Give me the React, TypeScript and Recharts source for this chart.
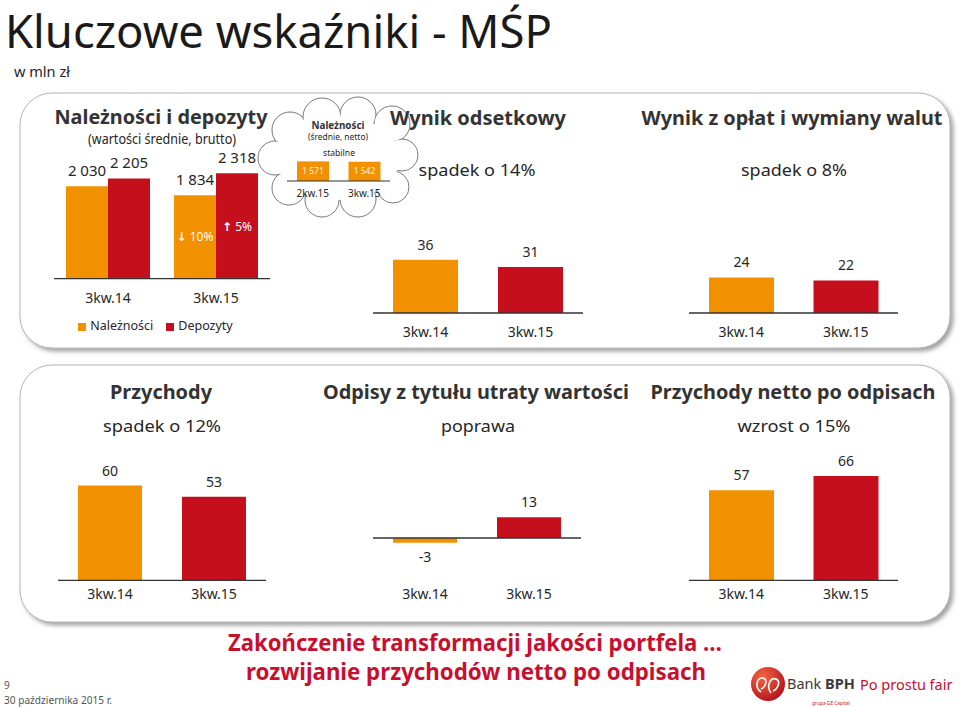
import React from 'react';
import { BarChart, Bar, XAxis, YAxis, Cell, LabelList, ReferenceLine, Legend } from 'recharts';

// ---------- data ----------
const categories = ['3kw.14', '3kw.15'];
const cloudCategories = ['2kw.15', '3kw.15'];
const seriesNames = ['Należności', 'Depozyty'];
const receivables = [2030, 1834];
const deposits = [2205, 2318];
const receivablesChange = [null, -10];
const depositsChange = [null, 5];
const receivablesNet = [1571, 1542];
const interestResult = [36, 31];
const feeResult = [24, 22];
const revenues = [60, 53];
const impairments = [-3, 13];
const netRevenues = [57, 66];

// ---------- style ----------
const ORANGE = '#F29100';
const RED = '#C50F1D';
const FOOT_RED = '#C8102E';
const TEXT = '#262626';
const FONT = '"Noto Sans", "Open Sans", sans-serif';
const PAIR_COLORS = [ORANGE, RED];

const fmt = (v: number) => {
  const a = Math.abs(v);
  const s = a >= 1000 ? `${Math.floor(a / 1000)} ${String(a % 1000).padStart(3, '0')}` : String(a);
  return v < 0 ? '-' + s : s;
};

const rectOf = (p: any) => {
  const vb = p.viewBox && p.viewBox.width !== undefined ? p.viewBox : p;
  const x = Number(vb.x), y = Number(vb.y), w = Number(vb.width), h = Number(vb.height);
  return { x, w, top: Math.min(y, y + h), bottom: Math.max(y, y + h), h: Math.abs(h) };
};

const valueLabel = (fontSize: number) => (p: any) => {
  const v = Number(p.value);
  if (p.value === null || p.value === undefined || isNaN(v)) return null;
  const r = rectOf(p);
  const cx = r.x + r.w / 2;
  const y = v < 0 ? r.bottom + 19 : r.top - 10;
  return (
    <text x={cx} y={y} textAnchor="middle" fontSize={fontSize} fill={TEXT} fontFamily={FONT}>
      {fmt(v)}
    </text>
  );
};

const insideLabel = (p: any) => {
  const r = rectOf(p);
  return (
    <text x={r.x + r.w / 2} y={r.top + r.h / 2 + 3} textAnchor="middle" fontSize={8.5} fill="#FFF4E0" fontFamily={FONT}>
      {fmt(Number(p.value))}
    </text>
  );
};

const changeLabel = (p: any) => {
  if (p.value === null || p.value === undefined) return null;
  const v = Number(p.value);
  const r = rectOf(p);
  return (
    <text x={r.x + r.w / 2} y={r.top + r.h * 0.55} textAnchor="middle" fontSize={12} fill="#fff" fontFamily={FONT}>
      <tspan fontWeight={700} fontFamily='"DejaVu Sans", sans-serif'>{v < 0 ? '↓' : '↑'}</tspan>
      {' ' + Math.abs(v) + '%'}
    </text>
  );
};

type Geo = { left: number; right: number; top: number; bottom: number };

const chartBox = (geo: Geo, axisH: number, extraH = 0) => ({
  style: { position: 'absolute' as const, left: geo.left - 10, top: geo.top - 30, fontFamily: FONT },
  width: geo.right - geo.left + 20,
  height: geo.bottom - geo.top + 30 + axisH + extraH,
  margin: { top: 30, right: 10, left: 10, bottom: 0 },
});

// plot areas (page coordinates)
const G1: Geo = { left: 54, right: 270, top: 165.3, bottom: 279 };
const GC: Geo = { left: 287, right: 390, top: 161, bottom: 181 };
const G2: Geo = { left: 373, right: 583, top: 239, bottom: 313 };
const G3: Geo = { left: 689, right: 898, top: 239, bottom: 313 };
const G4: Geo = { left: 58, right: 266, top: 453.6, bottom: 580 };
const G5: Geo = { left: 373, right: 581, top: 442, bottom: 580 };
const G6: Geo = { left: 689, right: 898, top: 453.6, bottom: 580 };

const tickStyle = { fontSize: 14, fill: TEXT, fontFamily: FONT };

function T(props: any) {
  const { x, y, s, w, bold, anchor = 'start', fill = TEXT, children } = props;
  return (
    <text x={x} y={y} fontSize={s} fontWeight={bold ? 700 : 400} textAnchor={anchor} fill={fill}
      fontFamily={FONT} textLength={w} lengthAdjust="spacingAndGlyphs">
      {children}
    </text>
  );
}

const cloudCircles = [
  [290, 130, 18], [322, 117, 19], [358, 115, 18], [392, 124, 18], [402, 155, 16],
  [393, 187, 16], [358, 199, 18], [322, 200, 17], [289, 188, 17], [275, 158, 17],
];

function PairChart({ geo, values, domain, tickMargin, zeroLine }: any) {
  const data = categories.map((c, i) => ({ cat: c, value: values[i] }));
  const b = chartBox(geo, 30);
  return (
    <div style={b.style}>
      <BarChart width={b.width} height={b.height} data={data} margin={b.margin} barCategoryGap={20}>
        <XAxis dataKey="cat" axisLine={zeroLine ? false : { stroke: '#333', strokeWidth: 1.3 }} tickLine={false}
          tickMargin={tickMargin} height={30} tick={tickStyle} interval={0} />
        <YAxis hide domain={domain} allowDataOverflow type="number" />
        {zeroLine ? <ReferenceLine y={0} stroke="#333" strokeWidth={1.3} /> : null}
        <Bar dataKey="value" isAnimationActive={false}>
          {data.map((d, i) => <Cell key={d.cat} fill={PAIR_COLORS[i]} />)}
          <LabelList dataKey="value" content={valueLabel(14)} />
        </Bar>
      </BarChart>
    </div>
  );
}

export default function App() {
  const p1Data = categories.map((c, i) => ({
    cat: c, nal: receivables[i], dep: deposits[i], nalCh: receivablesChange[i], depCh: depositsChange[i],
  }));
  const cloudData = cloudCategories.map((c, i) => ({ cat: c, value: receivablesNet[i] }));
  const b1 = chartBox(G1, 38, 20);
  const bc = chartBox(GC, 20);

  return (
    <div style={{ position: 'absolute', left: 0, top: 0, width: 960, height: 707, background: '#fff', overflow: 'hidden', fontFamily: FONT }}>
      <svg width={960} height={707} style={{ position: 'absolute', left: 0, top: 0 }}>
        <defs>
          <filter id="sh" x="-5%" y="-10%" width="110%" height="125%">
            <feDropShadow dx="3" dy="3" stdDeviation="2" floodColor="#555" floodOpacity="0.55" />
          </filter>
          <radialGradient id="lg" cx="35%" cy="30%" r="75%">
            <stop offset="0" stopColor="#F4683F" />
            <stop offset="1" stopColor="#B3121F" />
          </radialGradient>
        </defs>
        <rect x={20} y={93} width={930} height={255} rx={32} ry={32} fill="#fff" stroke="#b5b5b5" strokeWidth={1} filter="url(#sh)" />
        <rect x={20} y={365} width={930} height={257} rx={32} ry={32} fill="#fff" stroke="#b5b5b5" strokeWidth={1} filter="url(#sh)" />

        <T x={5} y={48} s={46} w={547} fill="#1a1a1a">Kluczowe wskaźniki - MŚP</T>
        <T x={14} y={77} s={14} w={56}>w mln zł</T>

        <T x={161} y={124} s={20} w={213} bold anchor="middle" fill="#333">Należności i depozyty</T>
        <T x={162} y={144} s={14} w={148} anchor="middle">(wartości średnie, brutto)</T>

        <T x={792} y={125} s={20} w={301} bold anchor="middle" fill="#333">Wynik z opłat i wymiany walut</T>
        <T x={794} y={176} s={17} w={106} anchor="middle">spadek o 8%</T>

        <T x={161} y={399} s={20} w={102} bold anchor="middle" fill="#333">Przychody</T>
        <T x={162} y={432} s={17} w={118} anchor="middle">spadek o 12%</T>
        <T x={476} y={399} s={20} w={306} bold anchor="middle" fill="#333">Odpisy z tytułu utraty wartości</T>
        <T x={478} y={432} s={17} w={74} anchor="middle">poprawa</T>
        <T x={793} y={399} s={20} w={285} bold anchor="middle" fill="#333">Przychody netto po odpisach</T>
        <T x={794} y={432} s={17} w={113} anchor="middle">wzrost o 15%</T>

        <g>
          {cloudCircles.map((c, i) => (
            <circle key={'o' + i} cx={c[0]} cy={c[1]} r={c[2]} fill="#fff" stroke="#666" strokeWidth={0.9} />
          ))}
          {cloudCircles.map((c, i) => (
            <circle key={'i' + i} cx={c[0]} cy={c[1]} r={c[2] - 0.9} fill="#fff" />
          ))}
          <ellipse cx={338} cy={158} rx={62} ry={42} fill="#fff" />
        </g>
        <T x={338} y={129} s={10.5} w={53} bold anchor="middle" fill="#333">Należności</T>
        <T x={338} y={140} s={8.5} w={60} anchor="middle">(średnie, netto)</T>
        <T x={339} y={156} s={9} w={32} anchor="middle">stabilne</T>

        <T x={478} y={125} s={20} w={176} bold anchor="middle" fill="#333">Wynik odsetkowy</T>
        <T x={477} y={176} s={17} w={117} anchor="middle">spadek o 14%</T>

        <T x={475} y={651} s={23} w={494} bold anchor="middle" fill={FOOT_RED}>Zakończenie transformacji jakości portfela …</T>
        <T x={476} y={680} s={23} w={460} bold anchor="middle" fill={FOOT_RED}>rozwijanie przychodów netto po odpisach</T>

        <T x={4} y={689} s={10} fill="#555">9</T>
        <T x={4} y={704} s={11} w={108} fill="#555">30 października 2015 r.</T>

        <circle cx={768} cy={684} r={17} fill="url(#lg)" />
        <path d="M761 692 c-7 -5 -4 -15 2 -14 c5 1 3 9 -2 11 M771 693 c-5 -6 -1 -16 5 -14 c5 2 2 10 -3 12"
          stroke="#fff" strokeWidth={1.6} fill="none" />
        <text x={787} y={689} fontSize={14.5} fill="#3a3a3a" fontFamily={FONT}>
          Bank <tspan fontWeight={700}>BPH</tspan>
        </text>
        <T x={812} y={705} s={5} w={38} fill={FOOT_RED}>grupa GE Capital</T>
        <T x={860} y={690} s={14.5} fill={FOOT_RED}>Po prostu fair</T>
      </svg>

      {/* Należności i depozyty */}
      <div style={b1.style}>
        <BarChart width={b1.width} height={b1.height} data={p1Data} margin={b1.margin} barCategoryGap={12} barGap={0}>
          <XAxis dataKey="cat" axisLine={{ stroke: '#333', strokeWidth: 1.3 }} tickLine={false} tickMargin={8}
            height={38} tick={tickStyle} interval={0} />
          <YAxis hide domain={[0, 2500]} allowDataOverflow type="number" />
          <Legend verticalAlign="bottom" iconType="square" iconSize={8} height={20}
            itemSorter={(item: any) => seriesNames.indexOf(item.value)}
            wrapperStyle={{ fontSize: 12.5, fontFamily: FONT }}
            formatter={(v: any) => <span style={{ color: TEXT, marginRight: 3 }}>{v}</span>} />
          <Bar dataKey="nal" name={seriesNames[0]} fill={ORANGE} isAnimationActive={false}>
            <LabelList dataKey="nal" content={valueLabel(15)} />
            <LabelList dataKey="nalCh" content={changeLabel} />
          </Bar>
          <Bar dataKey="dep" name={seriesNames[1]} fill={RED} isAnimationActive={false}>
            <LabelList dataKey="dep" content={valueLabel(15)} />
            <LabelList dataKey="depCh" content={changeLabel} />
          </Bar>
        </BarChart>
      </div>

      {/* cloud: Należności netto */}
      <div style={bc.style}>
        <BarChart width={bc.width} height={bc.height} data={cloudData} margin={bc.margin} barCategoryGap={10}>
          <XAxis dataKey="cat" axisLine={{ stroke: '#333', strokeWidth: 1 }} tickLine={false} tickMargin={2.5}
            height={20} tick={{ fontSize: 10, fill: TEXT, fontFamily: FONT }} interval={0} />
          <YAxis hide domain={[0, 1600]} allowDataOverflow type="number" />
          <Bar dataKey="value" fill={ORANGE} isAnimationActive={false}>
            <LabelList dataKey="value" content={insideLabel} />
          </Bar>
        </BarChart>
      </div>

      <PairChart geo={G2} values={interestResult} domain={[0, 50]} tickMargin={8} />
      <PairChart geo={G3} values={feeResult} domain={[0, 50]} tickMargin={8} />
      <PairChart geo={G4} values={revenues} domain={[0, 80]} tickMargin={3} />
      <PairChart geo={G5} values={impairments} domain={[-26.25, 60]} tickMargin={3} zeroLine />
      <PairChart geo={G6} values={netRevenues} domain={[0, 80]} tickMargin={3} />
    </div>
  );
}
